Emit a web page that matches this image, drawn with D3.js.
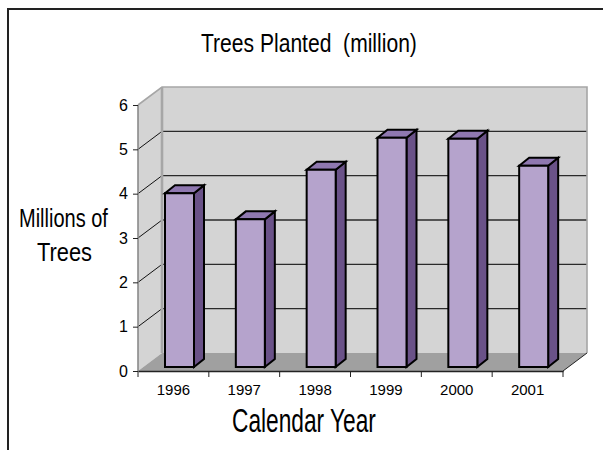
<!DOCTYPE html>
<html>
<head>
<meta charset="utf-8">
<script src="https://cdn.jsdelivr.net/npm/d3@7"></script>
<style>
html, body { margin: 0; padding: 0; background: #fff; }
svg { display: block; }
text { font-family: "Liberation Sans", Arial, sans-serif; fill: #000; white-space: pre; }
</style>
</head>
<body>
<svg id="chart" width="603" height="450"></svg>
<script>
var years = ['1996', '1997', '1998', '1999', '2000', '2001']
var treesPlanted = [3.92, 3.33, 4.45, 5.17, 5.15, 4.54]
var yTicks = [0, 1, 2, 3, 4, 5, 6]

var svg = d3.select('#chart')

var x = d3.scaleBand().domain(years).range([138, 563])
var y = d3.scaleLinear().domain([0, 6]).range([371, 105])

// offset of the back wall from the front axes
var depth = {x: 24, y: -18}
// offset of a bar's front face, and of its back face from the front
var barShift = {x: 27, y: -4}
var barBox = {w: 29, dx: 10, dy: -8}

function poly(points, fill, stroke, sw) {
    return svg.append('polygon')
        .attr('points', points.map(p => p.join(',')).join(' '))
        .attr('fill', fill)
        .attr('stroke', stroke || 'none')
        .attr('stroke-width', sw || 0)
        .attr('stroke-linejoin', 'miter')
}

function line(x1, y1, x2, y2, color, sw) {
    svg.append('line')
        .attr('x1', x1).attr('y1', y1).attr('x2', x2).attr('y2', y2)
        .attr('stroke', color).attr('stroke-width', sw)
}

// outer frame, only top and left are visible
line(8, 9, 603, 9, '#222', 2)
line(8, 8, 8, 450, '#222', 2)

var x0 = x.range()[0], x1 = x.range()[1]
var yB = y(0), yT = y(6)

// walls and floor
poly([[x0 + depth.x, yT + depth.y], [x1 + depth.x, yT + depth.y], [x1 + depth.x, yB + depth.y], [x0 + depth.x, yB + depth.y]], '#d4d4d4')
poly([[x0, yT], [x0 + depth.x, yT + depth.y], [x0 + depth.x, yB + depth.y], [x0, yB]], '#d4d4d4')
poly([[x0, yB], [x1, yB], [x1 + depth.x, yB + depth.y], [x0 + depth.x, yB + depth.y]], '#a0a0a0')

// gridlines
yTicks.filter(v => v > 0 && v < 6).forEach(function(v) {
    line(x0 + depth.x, y(v) + depth.y, x1 + depth.x, y(v) + depth.y, '#2a2a2a', 1.3)
    line(x0, y(v), x0 + depth.x, y(v) + depth.y, '#111', 1)
})

// wall edges
svg.append('polyline')
    .attr('points', [[x0, yT], [x0 + depth.x, yT + depth.y], [x1 + depth.x, yT + depth.y], [x1 + depth.x, yB + depth.y]].map(p => p.join(',')).join(' '))
    .attr('fill', 'none').attr('stroke', '#a6a6a6').attr('stroke-width', 1.6)
line(x0 + depth.x, yT + depth.y, x0 + depth.x, yB + depth.y, '#a6a6a6', 2.6)
line(x0, yT, x0, yB, '#8a8a8a', 1.6)
line(x1, yB, x1 + depth.x, yB + depth.y, '#222', 1)

// bars
years.forEach(function(year, i) {
    var left = x(year) + barShift.x
    var right = left + barBox.w
    var top = y(treesPlanted[i]) + barShift.y
    var bottom = y(0) + barShift.y
    var dx = barBox.dx, dy = barBox.dy
    poly([[right, top], [right + dx, top + dy], [right + dx, bottom + dy], [right, bottom]], '#6a5288', '#000', 2)
    poly([[left, top], [left + dx, top + dy], [right + dx, top + dy], [right, top]], '#8f78b0', '#000', 2)
    poly([[left, top], [right, top], [right, bottom], [left, bottom]], '#b5a3cc', '#000', 2)
})

// axes
var yAxis = svg.append('g')
    .attr('transform', 'translate(' + x0 + ',0)')
    .call(d3.axisLeft(y).tickValues(yTicks).tickSize(5).tickPadding(5).tickFormat(d3.format('d')))
yAxis.select('.domain').remove()
yAxis.selectAll('line').attr('stroke', '#222')
yAxis.selectAll('text').style('font-size', '16px').attr('font-family', null)

var xAxis = svg.append('g')
    .attr('transform', 'translate(0,' + yB + ')')
    .call(d3.axisBottom(x).tickSize(0).tickPadding(13))
xAxis.select('.domain').attr('stroke', '#222').attr('stroke-width', 1.4)
xAxis.selectAll('text').style('font-size', '15px').attr('font-family', null)

years.concat(['end']).forEach(function(year) {
    var tx = year === 'end' ? x1 : x(year)
    line(tx, yB, tx, yB + 6, '#222', 1)
})

// titles, squeezed because the original face is a narrow one
function label(txt, left, width, base, size) {
    var t = svg.append('text')
        .style('font-size', size + 'px')
        .text(txt)
    var k = width / t.node().getComputedTextLength()
    t.attr('transform', 'translate(' + left + ',' + base + ') scale(' + k + ',1)')
}
label('Trees Planted  (million)', 201, 216, 52, 26)
label('Millions of', 19, 89, 227, 25)
label('Trees', 37, 55, 261, 25)
label('Calendar Year', 232, 144, 432, 33)
</script>
</body>
</html>
